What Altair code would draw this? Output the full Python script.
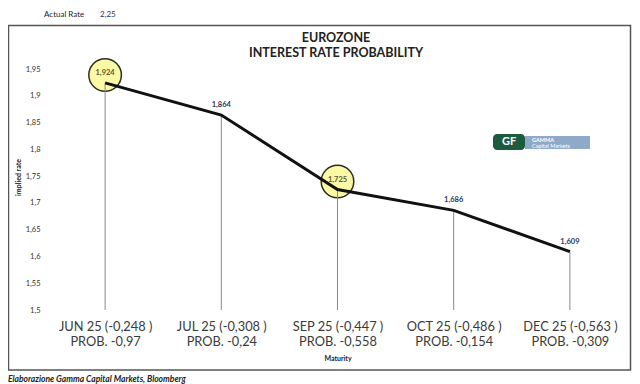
import altair as alt
import pandas as pd

# ---- data ----
maturities = ["JUN 25 (-0,248 )", "JUL 25 (-0,308 )", "SEP 25 (-0,447 )", "OCT 25 (-0,486 )", "DEC 25 (-0,563 )"]
probabilities = ["PROB. -0,97", "PROB. -0,24", "PROB. -0,558", "PROB. -0,154", "PROB. -0,309"]
implied_rates = [1.924, 1.864, 1.725, 1.686, 1.609]
highlighted = [True, False, True, False, False]
y_ticks = [1.5, 1.55, 1.6, 1.65, 1.7, 1.75, 1.8, 1.85, 1.9, 1.95]
actual_rate_label = "2,25"

df = pd.DataFrame({
    "cat": [m + "\n" + p for m, p in zip(maturities, probabilities)],
    "rate": implied_rates,
    "hl": highlighted,
})
cats = list(df["cat"])

FONT = "Lato"
W, H = 581, 241

xenc = alt.X("cat:N", sort=cats,
             scale=alt.Scale(type="point", padding=0.5),
             axis=alt.Axis(title="Maturity", labelExpr="split(datum.label, '\\n')",
                           labelAngle=0, labelFont=FONT, labelFontSize=12.8, labelLineHeight=15.5,
                           labelColor="#3a3a3a", labelPadding=10, ticks=False, domain=False,
                           grid=False, titleFont=FONT, titleFontSize=7, titleFontWeight="bold",
                           titleColor="#222222", titlePadding=6))
yenc = alt.Y("rate:Q", scale=alt.Scale(domain=[1.5, 1.95], nice=False, zero=False),
             axis=alt.Axis(title="implied rate", values=y_ticks,
                           labelExpr="replace(format(datum.value, '.2~f'), '.', ',')",
                           labelFont=FONT, labelFontSize=7.5, labelColor="#333333",
                           labelPadding=7, ticks=False, domain=False, grid=False,
                           titleFont=FONT, titleFontSize=7, titleFontWeight="bold",
                           titleColor="#222222", titlePadding=4, titleY=108))

base = alt.Chart(df)

circles = base.transform_filter("datum.hl").mark_circle(
    size=1060, color="#fbf8a6", opacity=1, stroke="#2e2e1c", strokeWidth=1.5, yOffset=-8
).encode(x=xenc, y=yenc)

drops = base.mark_rule(color="#8a8a8a", strokeWidth=1).encode(
    x=xenc, y=yenc, y2=alt.datum(1.5))

line = base.mark_line(color="#111111", strokeWidth=3).encode(x=xenc, y=yenc)

labels = base.transform_calculate(
    lab="replace(format(datum.rate, '.3f'), '.', ',')"
).mark_text(dy=-10, font=FONT, fontSize=7.5, fontWeight="bold").encode(
    x=xenc, y=yenc, text="lab:N",
    color=alt.condition("datum.hl", alt.value("#5b5b30"), alt.value("#1f3864")))

one = pd.DataFrame({"a": [0]})
ann = alt.Chart(one)

border = ann.mark_rect(fillOpacity=0, stroke="#555555", strokeWidth=1.5).encode(
    x=alt.value(-38.5), x2=alt.value(583.5), y=alt.value(-43.5), y2=alt.value(301))

def txt(s, x, y, size, color="#222222", weight="normal", style="normal", align="left"):
    return ann.mark_text(text=s, font=FONT, fontSize=size, color=color, fontWeight=weight,
                         fontStyle=style, align=align, baseline="middle").encode(
        x=alt.value(x), y=alt.value(y))

t1 = txt("EUROZONE", 289, -31, 12.5, weight="bold", align="center")
t2 = txt("INTEREST RATE PROBABILITY", 289, -16, 12.5, weight="bold", align="center")
ar1 = txt("Actual Rate", -3, -54, 8)
ar2 = txt(actual_rate_label, 53, -54, 8, color="#1f3864")
foot = txt("Elaborazione Gamma Capital Markets, Bloomberg", -39, 310, 8.5,
           weight="bold", style="italic")

logo_g = ann.mark_rect(color="#1d5b3e", cornerRadius=4).encode(
    x=alt.value(446), x2=alt.value(478), y=alt.value(65), y2=alt.value(81))
logo_b = ann.mark_rect(color="#8eaac8").encode(
    x=alt.value(478), x2=alt.value(543), y=alt.value(67), y2=alt.value(80))
logo_t0 = txt("GF", 462, 73, 11, color="white", weight="bold", align="center")
logo_t1 = txt("GAMMA", 485, 70.5, 5.5, color="white", weight="bold")
logo_t2 = txt("Capital Markets", 485, 76.5, 5.5, color="white")

chart = alt.layer(
    border, circles, drops, line, labels, t1, t2, ar1, ar2, foot,
    logo_g, logo_b, logo_t0, logo_t1, logo_t2
).properties(
    width=W, height=H,
    autosize=alt.AutoSizeParams(type="none"),
    padding={"left": 39, "top": 61, "right": 4, "bottom": 74},
    background="white",
).configure_view(stroke=None)

chart.save("out.html", embed_options={"renderer": "svg", "actions": False})
